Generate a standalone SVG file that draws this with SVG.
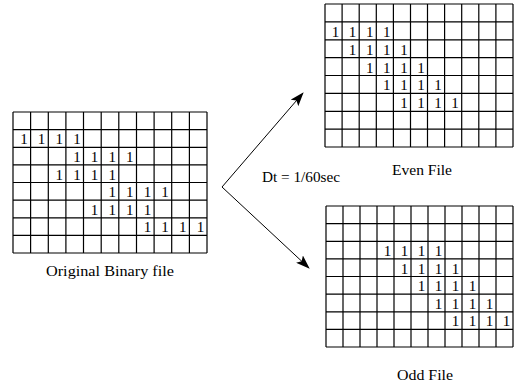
<svg xmlns="http://www.w3.org/2000/svg" width="519" height="385" viewBox="0 0 519 385">
<style>
.grid{fill:none;stroke:#000;stroke-width:1.2}
.one{font-family:"Liberation Serif","DejaVu Serif",serif;font-size:15px;fill:#000;text-anchor:middle}
.lbl{font-family:"Liberation Serif","DejaVu Serif",serif;font-size:15px;fill:#000;text-anchor:middle}
.conn{fill:none;stroke:#000;stroke-width:1}
</style>
<defs>
<marker id="ah" markerUnits="userSpaceOnUse" markerWidth="14" markerHeight="10" refX="13" refY="5" orient="auto">
<path d="M0,0 L14,5 L0,10 L3,5 Z" fill="#000"/>
</marker>
</defs>
<rect width="519" height="385" fill="#fff"/>
<g id="original">
<path class="grid" d="M13,112V253M30.6,112V253M48.3,112V253M65.9,112V253M83.5,112V253M101.2,112V253M118.8,112V253M136.5,112V253M154.1,112V253M171.7,112V253M189.4,112V253M207,112V253M13,112H207M13,129.6H207M13,147.3H207M13,164.9H207M13,182.5H207M13,200.1H207M13,217.8H207M13,235.4H207M13,253H207"/>
<g class="one">
<text x="24" y="144.3">1</text><text x="41.6" y="144.3">1</text><text x="59.3" y="144.3">1</text><text x="76.9" y="144.3">1</text>
<text x="76.9" y="161.9">1</text><text x="94.5" y="161.9">1</text><text x="112.2" y="161.9">1</text><text x="129.8" y="161.9">1</text>
<text x="59.3" y="179.5">1</text><text x="76.9" y="179.5">1</text><text x="94.5" y="179.5">1</text><text x="112.2" y="179.5">1</text>
<text x="112.2" y="197.1">1</text><text x="129.8" y="197.1">1</text><text x="147.5" y="197.1">1</text><text x="165.1" y="197.1">1</text>
<text x="94.5" y="214.8">1</text><text x="112.2" y="214.8">1</text><text x="129.8" y="214.8">1</text><text x="147.5" y="214.8">1</text>
<text x="147.5" y="232.4">1</text><text x="165.1" y="232.4">1</text><text x="182.7" y="232.4">1</text><text x="200.4" y="232.4">1</text>
</g>
<text class="lbl" x="110" y="276" textLength="128" lengthAdjust="spacingAndGlyphs">Original Binary file</text>
</g>
<g id="even">
<path class="grid" d="M325,4V147M342.1,4V147M359.2,4V147M376.3,4V147M393.4,4V147M410.5,4V147M427.5,4V147M444.6,4V147M461.7,4V147M478.8,4V147M495.9,4V147M513,4V147M325,4H513M325,21.9H513M325,39.8H513M325,57.6H513M325,75.5H513M325,93.4H513M325,111.3H513M325,129.1H513M325,147H513"/>
<g class="one">
<text x="335.5" y="36.8">1</text><text x="352.6" y="36.8">1</text><text x="369.7" y="36.8">1</text><text x="386.8" y="36.8">1</text>
<text x="352.6" y="54.6">1</text><text x="369.7" y="54.6">1</text><text x="386.8" y="54.6">1</text><text x="403.9" y="54.6">1</text>
<text x="369.7" y="72.5">1</text><text x="386.8" y="72.5">1</text><text x="403.9" y="72.5">1</text><text x="421" y="72.5">1</text>
<text x="386.8" y="90.4">1</text><text x="403.9" y="90.4">1</text><text x="421" y="90.4">1</text><text x="438" y="90.4">1</text>
<text x="403.9" y="108.3">1</text><text x="421" y="108.3">1</text><text x="438" y="108.3">1</text><text x="455.1" y="108.3">1</text>
</g>
<text class="lbl" x="422" y="175" textLength="60" lengthAdjust="spacingAndGlyphs">Even File</text>
</g>
<g id="odd">
<path class="grid" d="M326,206V347M343,206V347M360,206V347M377,206V347M394,206V347M411,206V347M428,206V347M445,206V347M462,206V347M479,206V347M496,206V347M513,206V347M326,206H513M326,223.6H513M326,241.3H513M326,258.9H513M326,276.5H513M326,294.1H513M326,311.8H513M326,329.4H513M326,347H513"/>
<g class="one">
<text x="387.5" y="255.9">1</text><text x="404.5" y="255.9">1</text><text x="421.5" y="255.9">1</text><text x="438.5" y="255.9">1</text>
<text x="404.5" y="273.5">1</text><text x="421.5" y="273.5">1</text><text x="438.5" y="273.5">1</text><text x="455.5" y="273.5">1</text>
<text x="421.5" y="291.1">1</text><text x="438.5" y="291.1">1</text><text x="455.5" y="291.1">1</text><text x="472.5" y="291.1">1</text>
<text x="438.5" y="308.8">1</text><text x="455.5" y="308.8">1</text><text x="472.5" y="308.8">1</text><text x="489.5" y="308.8">1</text>
<text x="455.5" y="326.4">1</text><text x="472.5" y="326.4">1</text><text x="489.5" y="326.4">1</text><text x="506.5" y="326.4">1</text>
</g>
<text class="lbl" x="425" y="380" textLength="56" lengthAdjust="spacingAndGlyphs">Odd File</text>
</g>
<g id="connectors">
<path class="conn" d="M222,187 L303,93" marker-end="url(#ah)"/>
<path class="conn" d="M222,187 L309,268" marker-end="url(#ah)"/>
<text class="lbl" x="301" y="182" font-size="12" textLength="78" lengthAdjust="spacingAndGlyphs">Dt  =  1/60sec</text>
</g>
</svg>
